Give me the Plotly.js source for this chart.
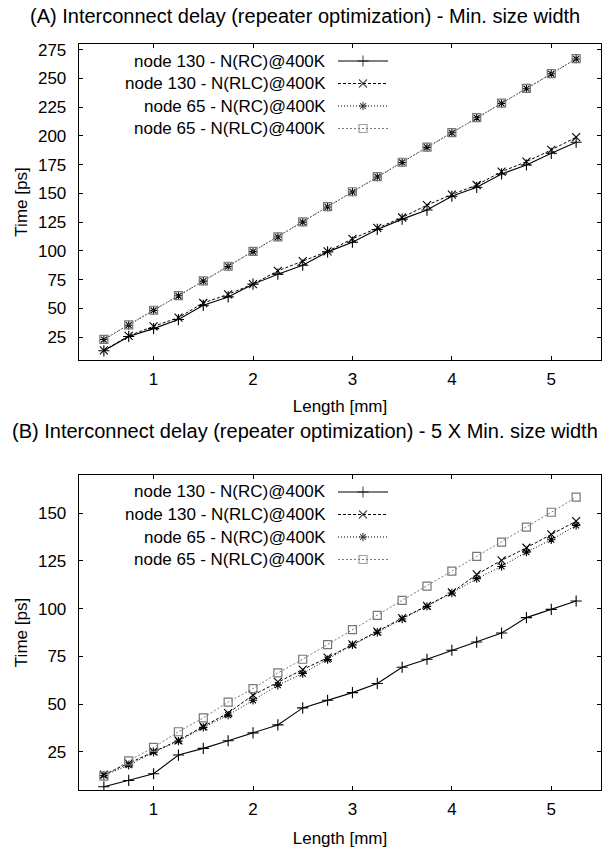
<!DOCTYPE html>
<html>
<head>
<meta charset="utf-8">
<script src="https://cdn.plot.ly/plotly-3.0.1.min.js"></script>
<style>html,body{margin:0;padding:0;background:#fff;}#chart{width:610px;height:854px;}</style>
</head>
<body>
<div id="chart"></div>
<script>
// ---- data ----
const lengths = [0.5,0.75,1.0,1.25,1.5,1.75,2.0,2.25,2.5,2.75,3.0,3.25,3.5,3.75,4.0,4.25,4.5,4.75,5.0,5.25];
const seriesNames = ["node 130 - N(RC)@400K","node 130 - N(RLC)@400K","node 65 - N(RC)@400K","node 65 - N(RLC)@400K"];
// (A) Min. size width
const a_n130_rc  = [13.0,25.5,32.3,40.2,52.6,59.9,71.0,79.7,87.5,99.1,107.5,118.6,127.6,135.5,147.5,155.3,166.9,174.7,184.9,194.5];
const a_n130_rlc = [13.4,26.0,34.3,41.9,54.6,62.2,71.0,82.6,91.0,99.5,110.5,120.0,129.0,139.8,149.0,157.3,168.9,177.6,187.8,198.9];
const a_n65_rc   = [22.8,35.3,48.1,60.9,73.6,86.4,99.3,112.0,125.0,138.2,151.2,164.3,176.9,190.0,202.7,215.8,228.3,241.1,254.1,267.0];
const a_n65_rlc  = [23.0,35.5,48.3,61.1,73.8,86.6,99.5,112.2,125.2,138.4,151.4,164.5,177.1,190.2,202.9,216.0,228.5,241.3,254.3,267.2];
// (B) 5 X Min. size width
const b_n130_rc  = [6.7,10.0,13.5,23.3,26.8,30.8,34.9,39.1,48.0,52.0,56.0,60.8,69.3,73.5,78.2,82.5,87.2,95.3,99.6,104.0];
const b_n130_rlc = [13.0,18.9,25.2,31.0,38.3,45.3,54.7,61.6,68.1,74.3,81.3,88.0,95.0,101.5,108.5,117.9,125.3,131.9,138.9,145.8];
const b_n65_rc   = [12.6,18.0,24.8,30.6,37.8,44.2,52.0,59.9,66.0,73.3,81.0,87.6,94.6,101.2,108.2,115.7,122.1,129.6,136.1,143.6];
const b_n65_rlc  = [12.3,20.3,27.3,35.5,42.8,51.0,58.1,66.3,73.5,81.2,89.0,96.5,104.3,111.8,119.7,127.4,134.8,142.7,150.5,158.4];
const xTicks = [1,2,3,4,5];
const yTicksA = [25,50,75,100,125,150,175,200,225,250,275];
const yTicksB = [25,50,75,100,125,150];
const titleA = "(A) Interconnect delay (repeater optimization) - Min. size width";
const titleB = "(B) Interconnect delay (repeater optimization) - 5 X Min. size width";
const xTitle = "Length [mm]";
const yTitle = "Time [ps]";

// ---- styles ----
const FONT = "Liberation Sans, Arial, sans-serif";
const FS = 17, TFS = 20;
const styles = [
  {line:{color:"#000",width:1.1,dash:"solid"}, marker:{symbol:"cross-thin-open",size:8,line:{color:"#000",width:1.1}}},
  {line:{color:"#000",width:1,dash:"3px,2px"}, marker:{symbol:"x-thin-open",size:8,line:{color:"#000",width:1.1}}},
  {line:{color:"#000",width:1,dash:"1px,2px"}, marker:{symbol:"asterisk-open",size:7,line:{color:"#000",width:1.1}}},
  {line:{color:"#777",width:1,dash:"2px,2px"}, marker:{symbol:"square-open",size:8,line:{color:"#333",width:1.2}}}
];

// geometry (px)
const W=610,H=854, M={l:79,r:9,t:44,b:64};
const plotTopA=44, plotBotA=360, plotTopB=475, plotBotB=790;
const pw = W-M.l-M.r, ph = H-M.t-M.b;
const px2x = px=>(px-M.l)/pw;
const px2y = py=>(H-M.b-py)/ph;
const dom = (top,bot)=>[px2y(bot),px2y(top)];

const traces=[];
const dataA=[a_n130_rc,a_n130_rlc,a_n65_rc,a_n65_rlc];
const dataB=[b_n130_rc,b_n130_rlc,b_n65_rc,b_n65_rlc];
dataA.forEach((ys,i)=>traces.push({x:lengths,y:ys,xaxis:"x",yaxis:"y",mode:"lines+markers",name:seriesNames[i],showlegend:false,line:styles[i].line,marker:styles[i].marker}));
dataB.forEach((ys,i)=>traces.push({x:lengths,y:ys,xaxis:"x2",yaxis:"y2",mode:"lines+markers",name:seriesNames[i],showlegend:false,line:styles[i].line,marker:styles[i].marker}));

// custom legend keys (gnuplot style: text right, sample to the right), on a full-paper px axis
const annotations=[];
const keyTextRight=328, keyX0=338, keyX1=388, keyRow=22.5;
[plotTopA+17, plotTopB+17].forEach(y0=>{
  seriesNames.forEach((nm,i)=>{
    const y=y0+i*keyRow;
    traces.push({x:[keyX0,(keyX0+keyX1)/2,keyX1],y:[y,y,y],xaxis:"x3",yaxis:"y3",mode:"lines+markers",showlegend:false,hoverinfo:"skip",
      line:styles[i].line, marker:Object.assign({},styles[i].marker,{size:[0,styles[i].marker.size,0]})});
    annotations.push({xref:"paper",yref:"paper",x:px2x(keyTextRight),y:px2y(y),text:nm,showarrow:false,xanchor:"right",yanchor:"middle",font:{family:FONT,size:FS,color:"#000"}});
  });
});
annotations.push({xref:"paper",yref:"paper",x:px2x(305),y:px2y(16),text:titleA,showarrow:false,xanchor:"center",yanchor:"middle",font:{family:FONT,size:TFS,color:"#000"}});
annotations.push({xref:"paper",yref:"paper",x:px2x(305),y:px2y(431),text:titleB,showarrow:false,xanchor:"center",yanchor:"middle",font:{family:FONT,size:TFS,color:"#000"}});

const axBase={showline:true,linecolor:"#000",linewidth:1.3,mirror:"ticks",ticks:"inside",ticklen:4,tickwidth:1,tickcolor:"#000",
  showgrid:false,zeroline:false,tickfont:{family:FONT,size:FS,color:"#000"},fixedrange:true};
const layout={
  width:W,height:H,margin:M,paper_bgcolor:"#fff",plot_bgcolor:"rgba(0,0,0,0)",showlegend:false,
  font:{family:FONT,size:FS,color:"#000"},
  xaxis:Object.assign({},axBase,{domain:[0,1],range:[0.25,5.5],tickvals:xTicks,ticklabelstandoff:3,anchor:"y",
    title:{text:xTitle,font:{family:FONT,size:FS},standoff:12}}),
  yaxis:Object.assign({},axBase,{domain:dom(plotTopA,plotBotA),range:[5,280],tickvals:yTicksA,ticklabelstandoff:8,anchor:"x",
    title:{text:yTitle,font:{family:FONT,size:FS},standoff:6}}),
  xaxis2:Object.assign({},axBase,{domain:[0,1],range:[0.25,5.5],tickvals:xTicks,ticklabelstandoff:3,anchor:"y2",
    title:{text:xTitle,font:{family:FONT,size:FS},standoff:14}}),
  yaxis2:Object.assign({},axBase,{domain:dom(plotTopB,plotBotB),range:[5,170],tickvals:yTicksB,ticklabelstandoff:8,anchor:"x2",
    title:{text:yTitle,font:{family:FONT,size:FS},standoff:6}}),
  xaxis3:{domain:[0,1],range:[M.l,W-M.r],visible:false,showgrid:false,zeroline:false,fixedrange:true,anchor:"y3"},
  yaxis3:{domain:[0,1],range:[H-M.b,M.t],visible:false,showgrid:false,zeroline:false,fixedrange:true,anchor:"x3"},
  annotations:annotations
};
Plotly.newPlot("chart",traces,layout,{displayModeBar:false,staticPlot:true});
</script>
</body>
</html>
